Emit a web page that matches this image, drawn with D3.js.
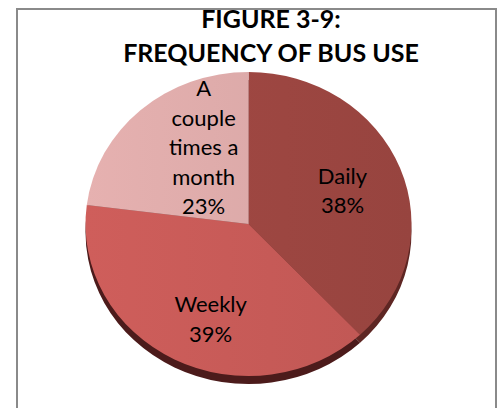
<!DOCTYPE html>
<html>
<head>
<meta charset="utf-8">
<script src="https://cdn.jsdelivr.net/npm/d3@7/dist/d3.min.js"></script>
<style>
  html, body { margin: 0; padding: 0; background: #fff; }
  svg { display: block; }
</style>
</head>
<body>
<script>
// Survey: how often respondents ride the bus
const categories = ["Daily", "Weekly", "A couple times a month"];
const shares = [38, 39, 23];
const labelLines = [["Daily"], ["Weekly"], ["A", "couple", "times a", "month"]];
const titleLines = ["FIGURE 3-9:", "FREQUENCY OF BUS USE"];

const W = 498, H = 408;
const svg = d3.select("body").append("svg").attr("width", W).attr("height", H);

// frame
svg.append("rect")
  .attr("x", 17).attr("y", 9).attr("width", 479).attr("height", 420)
  .attr("fill", "#fff").attr("stroke", "#8a8a8a").attr("stroke-width", 2);

// title
const title = svg.append("text")
  .attr("text-anchor", "middle")
  .attr("font-family", "Lato, 'Open Sans', sans-serif")
  .attr("font-weight", "bold").attr("font-size", 25).attr("fill", "#000");
title.selectAll("tspan").data(titleLines).join("tspan")
  .attr("x", 271).attr("y", (d, i) => 28 + i * 33.5).text(d => d);

// pie geometry (tilted: drawn as a circle, squashed vertically)
const cx = 248.5, cy = 224, R = 163, ry = 152, depth = 8;
const squash = ry / R;

const faceColors = d3.scaleOrdinal().domain(categories).range(["#9d4641", "#c65a57", "#dcaaa9"]);
const sideColors = d3.scaleOrdinal().domain(categories).range(["#5e2623", "#4c1b1b", "#7a4a49"]);

const pie = d3.pie().sort(null).value(d => d.value);
const arcs = pie(categories.map((c, i) => ({ name: c, value: shares[i], lines: labelLines[i] })));
const arc = d3.arc().innerRadius(0).outerRadius(R);

// soft left-to-right shading on each face
const defs = svg.append("defs");
categories.forEach((c, i) => {
  const base = d3.color(faceColors(c));
  const g = defs.append("linearGradient").attr("id", "g" + i)
    .attr("gradientUnits", "userSpaceOnUse")
    .attr("x1", -R).attr("y1", 0).attr("x2", R).attr("y2", 0);
  g.append("stop").attr("offset", 0).attr("stop-color", base.brighter(0.12));
  g.append("stop").attr("offset", 1).attr("stop-color", base.darker(0.1));
});

// side wall
const sideLayer = svg.append("g").attr("transform", `translate(${cx},${cy + depth}) scale(1,${squash})`);
sideLayer.selectAll("path").data(arcs).join("path")
  .attr("d", arc).attr("fill", d => sideColors(d.data.name));

// top face
const faceLayer = svg.append("g").attr("transform", `translate(${cx},${cy}) scale(1,${squash})`);
faceLayer.selectAll("path").data(arcs).join("path")
  .attr("d", arc)
  .attr("fill", (d, i) => `url(#g${i})`);

// labels near slice centroids, nudged to sit inside each wedge
const labelArc = d3.arc().innerRadius(R * 0.62).outerRadius(R * 0.62);
const nudge = { "Daily": [0, 2], "Weekly": [8, 12], "A couple times a month": [22, -5] };
const lineH = 29.5;
const labels = svg.append("g")
  .attr("font-family", "Lato, 'Open Sans', sans-serif")
  .attr("font-size", 22).attr("fill", "#000").attr("text-anchor", "middle");
arcs.forEach(d => {
  const [px, py] = labelArc.centroid(d);
  const [nx, ny] = nudge[d.data.name];
  const lines = d.data.lines.concat([d3.format(".0f")(d.data.value) + "%"]);
  const x = cx + px + nx, yMid = cy + py * squash + ny;
  const y0 = yMid - (lines.length - 1) * lineH / 2 + 7;
  const t = labels.append("text");
  t.selectAll("tspan").data(lines).join("tspan")
    .attr("x", x).attr("y", (l, k) => y0 + k * lineH).text(l => l);
});
</script>
</body>
</html>
